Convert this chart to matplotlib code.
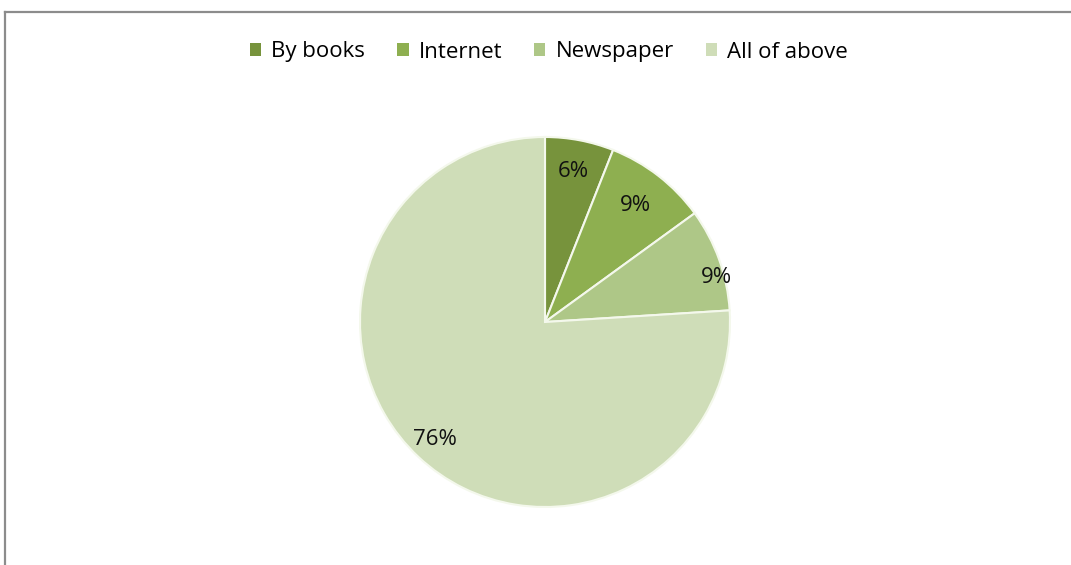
import matplotlib.pyplot as plt
import numpy as np
from matplotlib.lines import Line2D
from matplotlib.patches import Patch

plt.rcParams['font.family'] = ['Open Sans', 'DejaVu Sans']

categories = ["By books", "Internet", "Newspaper", "All of above"]
shares = [6, 9, 9, 76]
colors = ["#77933C", "#8EAF50", "#AEC787", "#CFDDB8"]
# label placement inside each wedge: fraction of the radius, fraction along the arc
label_r = [0.83, 0.80, 0.96, 0.87]
label_t = [0.5, 0.5, 0.66, 0.5]

W, H = 1071, 565
fig = plt.figure(figsize=(W / 100, H / 100), dpi=100)

# chart area border (only left and top edges fall inside the image)
fig.add_artist(Line2D([5 / W, 5 / W], [0, 1 - 12 / H], color="#8C8C8C", lw=1.6))
fig.add_artist(Line2D([5 / W, 1], [1 - 12 / H, 1 - 12 / H], color="#8C8C8C", lw=1.6))

cx, cy, r = 545, 322, 185
ax = fig.add_axes([(cx - r) / W, (H - cy - r) / H, 2 * r / W, 2 * r / H])
wedges, _ = ax.pie(shares, colors=colors, startangle=90, counterclock=False,
                   radius=1, wedgeprops=dict(edgecolor="#F4F8EC", linewidth=1.5))
ax.set_xlim(-1.0, 1.0)
ax.set_ylim(-1.0, 1.0)
ax.set_aspect("equal")
ax.axis("off")

for w, val, lr, lt in zip(wedges, shares, label_r, label_t):
    # wedges run clockwise, so theta2 is the start edge
    ang = np.deg2rad(w.theta2 + (w.theta1 - w.theta2) * lt)
    ax.text(lr * np.cos(ang), lr * np.sin(ang), f"{val}%", ha="center", va="center",
            fontsize=16, color="#111111")

handles = [Patch(facecolor=c, edgecolor="none") for c in colors]
fig.legend(handles, categories, loc="center", bbox_to_anchor=(549 / W, 1 - 52 / H),
           ncol=4, frameon=False, fontsize=16, handlelength=0.5, handleheight=0.5,
           handletextpad=0.45, columnspacing=1.45)

fig.savefig("out.png", dpi=100, facecolor="white")
